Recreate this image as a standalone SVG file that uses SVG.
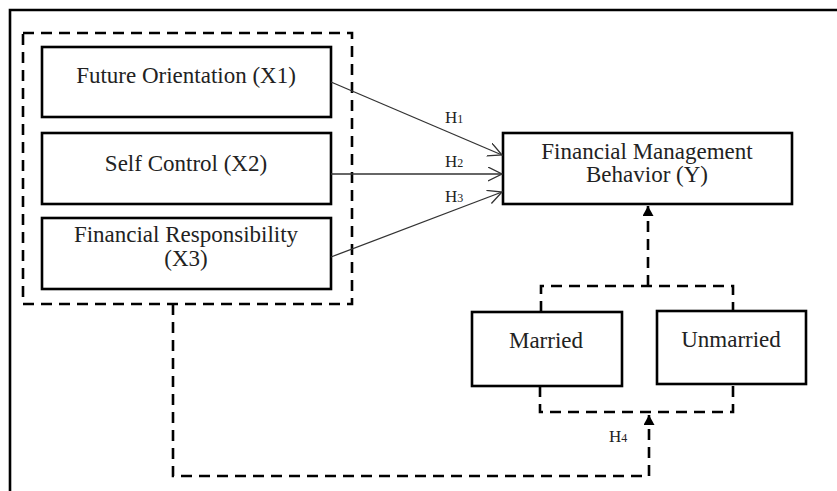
<svg xmlns="http://www.w3.org/2000/svg" width="837" height="491" viewBox="0 0 837 491">
<style>
  .box{fill:#fff;stroke:#000;stroke-width:2.6}
  .dash{fill:none;stroke:#000;stroke-width:2.6;stroke-dasharray:11 7}
  .arr{fill:none;stroke:#333;stroke-width:1.3}
  .t{font-family:"Liberation Serif","Times New Roman",serif;font-size:23px;fill:#222;text-anchor:middle}
  .h{font-family:"Liberation Serif","Times New Roman",serif;font-size:17px;fill:#222}
</style>
<defs>
  <marker id="open" markerUnits="userSpaceOnUse" markerWidth="16" markerHeight="16" refX="14" refY="7" orient="auto">
    <path d="M0,0 L14,7 L0,14" fill="none" stroke="#333" stroke-width="1.3"/>
  </marker>
  <marker id="tri" markerUnits="userSpaceOnUse" markerWidth="12" markerHeight="12" refX="10" refY="5.5" orient="auto">
    <path d="M0,0 L10,5.5 L0,11 Z" fill="#000"/>
  </marker>
</defs>
<rect width="837" height="491" fill="#fff"/>
<path d="M10,495 V10 H840" fill="none" stroke="#000" stroke-width="2.6"/>
<g id="group">
  <rect class="dash" x="23" y="33" width="329" height="271"/>
</g>
<g id="x1">
  <rect class="box" x="42" y="47" width="289" height="70"/>
  <text class="t" x="186" y="83">Future Orientation (X1)</text>
</g>
<g id="x2">
  <rect class="box" x="42" y="133" width="289" height="71"/>
  <text class="t" x="186" y="171">Self Control (X2)</text>
</g>
<g id="x3">
  <rect class="box" x="42" y="218" width="289" height="71"/>
  <text class="t"><tspan x="186" y="242">Financial Responsibility</tspan><tspan x="186" dy="23.5">(X3)</tspan></text>
</g>
<g id="y">
  <rect class="box" x="503" y="133" width="289" height="71"/>
  <text class="t"><tspan x="647" y="159">Financial Management</tspan><tspan x="647" dy="23">Behavior (Y)</tspan></text>
</g>
<g id="married">
  <rect class="box" x="472" y="312" width="150" height="74"/>
  <text class="t" x="546" y="348">Married</text>
</g>
<g id="unmarried">
  <rect class="box" x="657" y="311" width="149" height="73"/>
  <text class="t" x="731" y="347">Unmarried</text>
</g>
<g id="connectors">
  <line class="arr" x1="331" y1="82" x2="502" y2="155" marker-end="url(#open)"/>
  <line class="arr" x1="331" y1="174" x2="502" y2="174" marker-end="url(#open)"/>
  <line class="arr" x1="331" y1="257" x2="502" y2="192" marker-end="url(#open)"/>
  <path class="dash" d="M648,286 V206" marker-end="url(#tri)"/>
  <path class="dash" d="M541,312 V286 H733 V311"/>
  <path class="dash" d="M540,386 V412 H733 V384"/>
  <path class="dash" d="M173,304 V476 H649 V415" marker-end="url(#tri)"/>
</g>
<g id="labels">
  <text class="h" x="445" y="123">H<tspan font-size="12">1</tspan></text>
  <text class="h" x="445" y="167">H<tspan font-size="12">2</tspan></text>
  <text class="h" x="445" y="202">H<tspan font-size="12">3</tspan></text>
  <text class="h" x="609" y="442">H<tspan font-size="12">4</tspan></text>
</g>
</svg>
